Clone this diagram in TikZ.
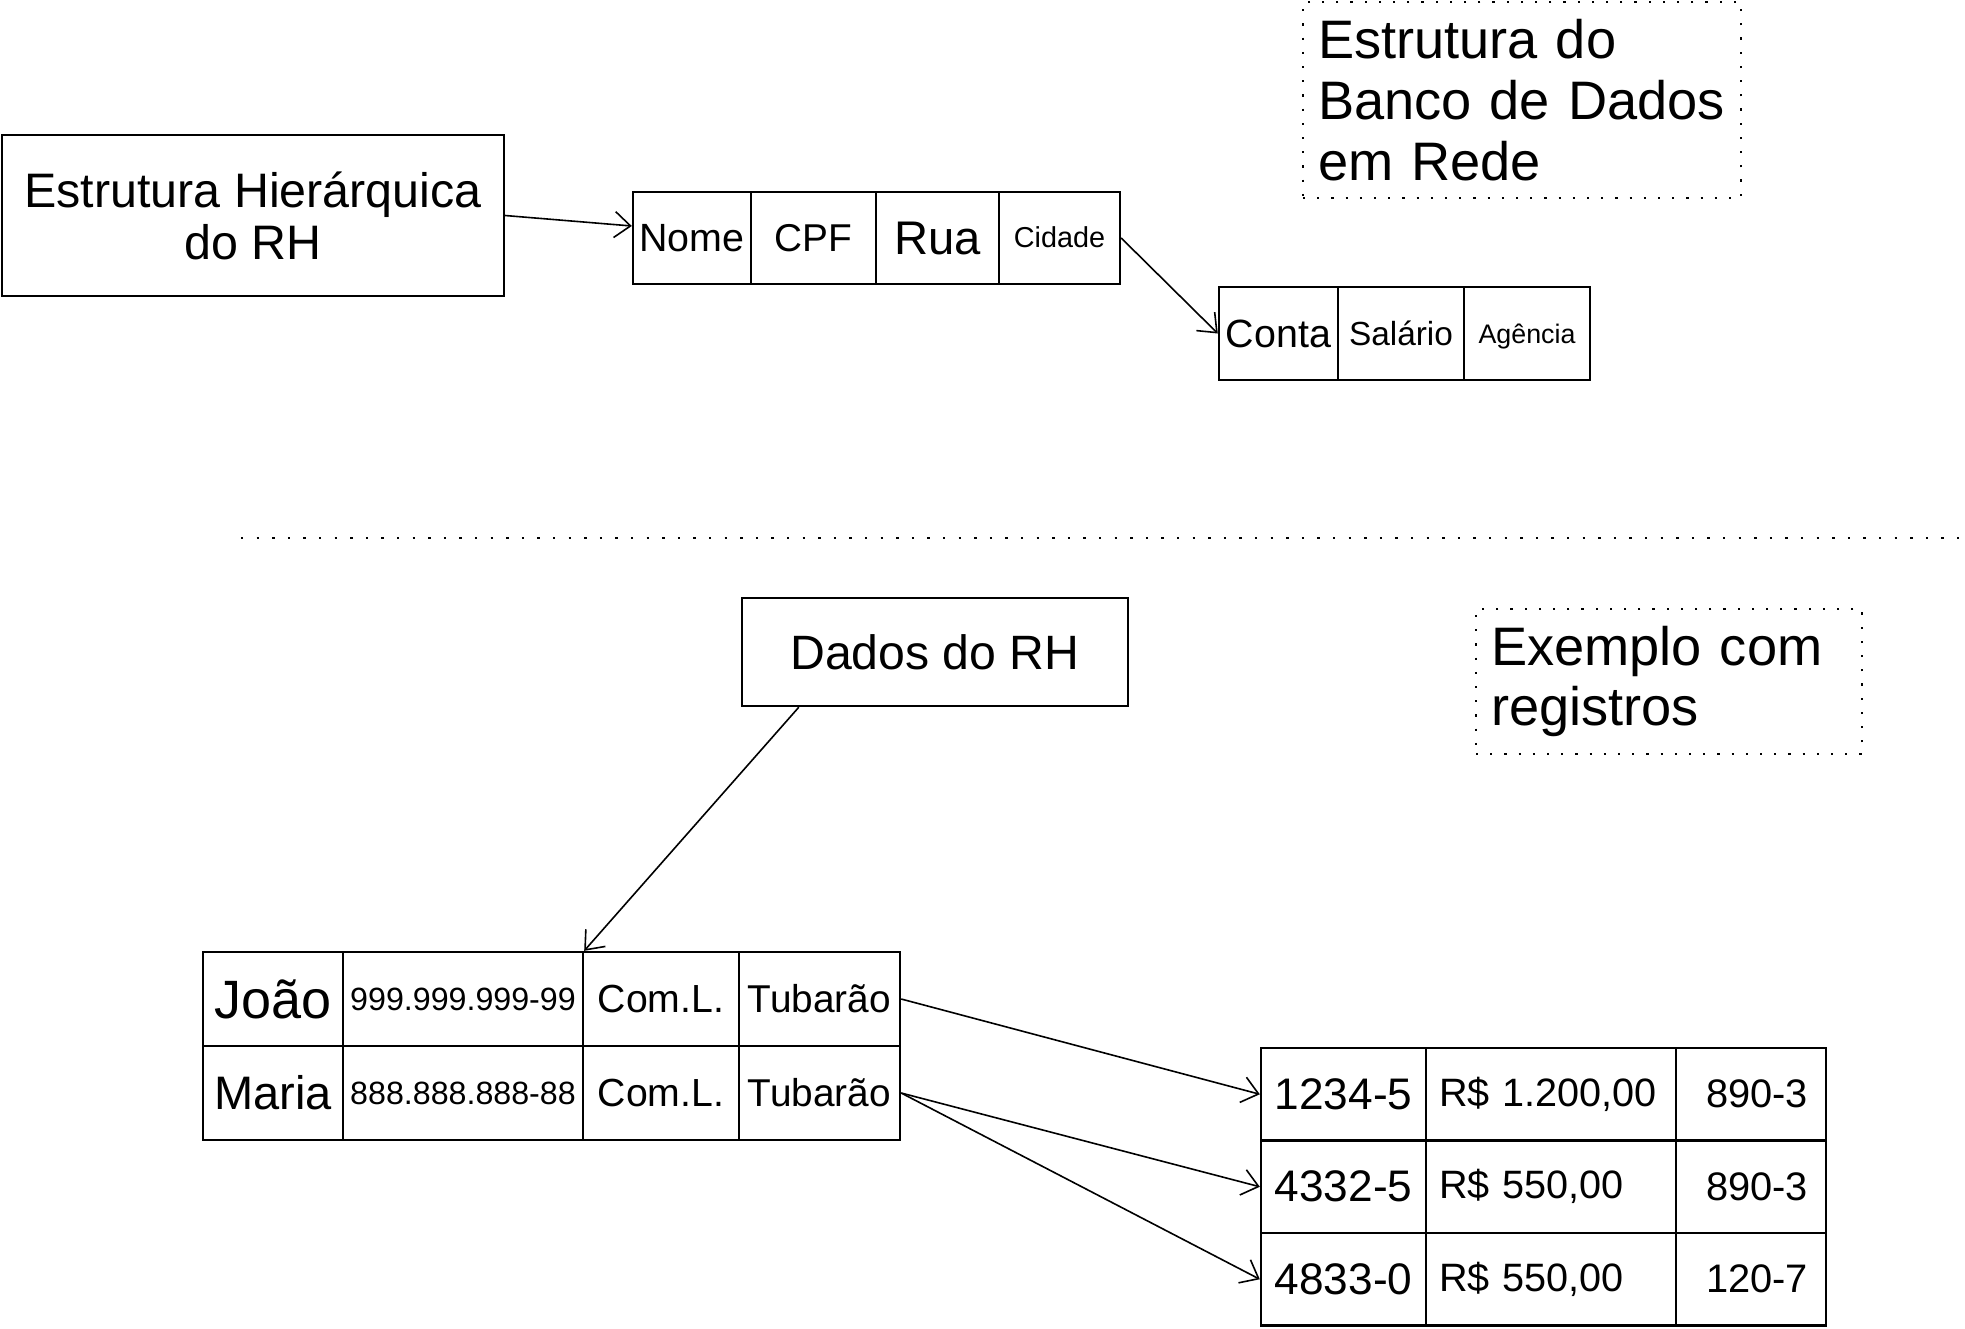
\documentclass[tikz,border=0pt]{standalone}
\usepackage{fontspec}
\setmainfont{Liberation Sans}
\usetikzlibrary{arrows.meta}

\begin{document}
\begin{tikzpicture}[x=0.5pt,y=-0.5pt,>={Straight Barb[length=8pt,width=13pt]},
	box/.style={draw,line width=1.2pt,inner sep=0pt},
	field/.style={box,minimum height=46pt},
	cell/.style={box,minimum height=47pt},
	rec/.style={box,minimum height=46.25pt},
	note/.style={draw,line width=1.1pt,dash pattern=on 1.1pt off 6pt,inner xsep=7.5pt,inner ysep=0pt,align=left},
	link/.style={->,line width=0.8pt}]
	\useasboundingbox (0,0) rectangle (1965,1328);
	% top half: structure
	\draw
		(253,215.5) node(hier) [box, minimum width=250.75pt, minimum height=80.5pt, align=center, font=\fontsize{24.2}{26}\selectfont] {Estrutura Hierárquica\\do RH}
		(1522,100) node(rede) [note, text width=204pt, minimum height=98pt, font=\fontsize{27.1}{30.4}\selectfont] {Estrutura do\\Banco de Dados\\em Rede};
	\draw
		(692,238)    node(nome) [field, minimum width=59pt, font=\fontsize{19.7}{22}\selectfont] {Nome}
		(813.5,238)  node(cpf) [field, minimum width=62.5pt, font=\fontsize{19.4}{22}\selectfont] {CPF}
		(937.5,238)  node(rua) [field, minimum width=61.5pt, font=\fontsize{23.6}{26}\selectfont] {Rua}
		(1059.5,238) node(cidade) [field, minimum width=60.5pt, text depth=1pt, font=\fontsize{14.4}{16}\selectfont] {Cidade};
	\draw
		(1278.5,333.5) node(conta) [field, minimum height=46.5pt, minimum width=59.5pt, font=\fontsize{19.7}{22}\selectfont] {Conta}
		(1401,333.5)   node(salario) [field, minimum height=46.5pt, minimum width=63pt, font=\fontsize{16.7}{19}\selectfont] {Salário}
		(1527,333.5)   node(agencia) [field, minimum height=46.5pt, minimum width=63pt, text depth=0pt, font=\fontsize{13.4}{15}\selectfont] {Agência};
	\draw [link](hier.east) to ([yshift=6pt]nome.west);
	\draw [link](cidade.east) to (conta.west);
	% separator
	\draw [line width=1.2pt,dash pattern=on 1.2pt off 6.6pt](241,538) -- (1965,538);
	% bottom half: records
	\draw
		(935,652)    node(dados) [box, minimum width=193pt, minimum height=54pt, font=\fontsize{24.1}{26}\selectfont] {Dados do RH}
		(1669,681.5) node(exemplo) [note, text width=178pt, minimum height=72.5pt, font=\fontsize{27.1}{30}\selectfont] {Exemplo com\\registros};
	\draw
		(273,999)   node(nomea) [cell, minimum width=70pt, font=\fontsize{27}{29}\selectfont] {João}
		(463,999)   node(cpfa) [cell, minimum width=120pt, font=\fontsize{16.1}{18}\selectfont] {999.999.999-99}
		(661,999)   node(ruaa) [cell, minimum width=78pt, font=\fontsize{19.6}{22}\selectfont] {Com.L.}
		(819.5,999) node(cidadea) [cell, minimum width=80.5pt, font=\fontsize{19.4}{22}\selectfont] {Tubarão}
		(273,1093)   node(nomeb) [cell, minimum width=70pt, font=\fontsize{23.5}{26}\selectfont] {Maria}
		(463,1093)   node(cpfb) [cell, minimum width=120pt, font=\fontsize{16.1}{18}\selectfont] {888.888.888-88}
		(661,1093)   node(ruab) [cell, minimum width=78pt, font=\fontsize{19.6}{22}\selectfont] {Com.L.}
		(819.5,1093) node(cidadeb) [cell, minimum width=80.5pt, font=\fontsize{19.4}{22}\selectfont] {Tubarão};
	\draw
		(1343.5,1094.25) node(contaa) [rec, minimum width=82.5pt, font=\fontsize{22.1}{24}\selectfont] {1234-5}
		(1551,1094.25)   node(salarioa) [rec, inner xsep=6.5pt, text width=112pt, align=left, font=\fontsize{19.8}{22}\selectfont] {R\$ 1.200,00}
		(1751,1094.25)   node(agenciaa) [rec, inner xsep=9pt, text width=57pt, align=right, font=\fontsize{19.9}{22}\selectfont] {890-3}
		(1343.5,1186.75) node(contab) [rec, minimum width=82.5pt, font=\fontsize{22.1}{24}\selectfont] {4332-5}
		(1551,1186.75)   node(salariob) [rec, inner xsep=6.5pt, text width=112pt, align=left, font=\fontsize{19.8}{22}\selectfont] {R\$ 550,00}
		(1751,1186.75)   node(agenciab) [rec, inner xsep=9pt, text width=57pt, align=right, font=\fontsize{19.9}{22}\selectfont] {890-3}
		(1343.5,1279.25) node(contac) [rec, minimum width=82.5pt, font=\fontsize{22.1}{24}\selectfont] {4833-0}
		(1551,1279.25)   node(salarioc) [rec, inner xsep=6.5pt, text width=112pt, align=left, font=\fontsize{19.8}{22}\selectfont] {R\$ 550,00}
		(1751,1279.25)   node(agenciac) [rec, inner xsep=9pt, text width=57pt, align=right, font=\fontsize{19.9}{22}\selectfont] {120-7};
	\draw [link]([xshift=29pt]dados.south west) to (cpfa.north east);
	\draw [link](cidadea.east) to (contaa.west);
	\draw [link](cidadeb.east) to (contab.west);
	\draw [link](cidadeb.east) to (contac.west);
\end{tikzpicture}
\end{document}
